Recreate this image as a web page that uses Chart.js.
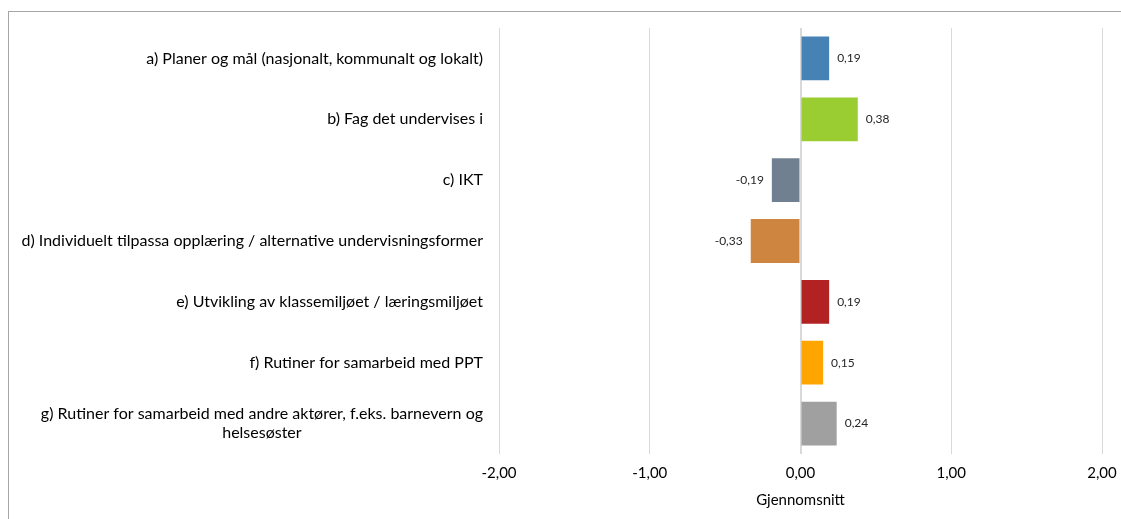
<!DOCTYPE html>
<html>
<head>
<meta charset="utf-8">
<script src="https://cdn.jsdelivr.net/npm/chart.js@4.4.1/dist/chart.umd.min.js"></script>
<style>
  html, body { margin: 0; padding: 0; background: #fff; overflow: hidden; }
  #wrap { position: relative; width: 1121px; height: 519px; }
  #frame { position: absolute; left: 8px; top: 11px; width: 1200px; height: 600px; border: 1px solid #a6a6a6; }
  canvas { position: absolute; left: 0; top: 0; }
</style>
</head>
<body>
<div id="wrap">
  <div id="frame"></div>
  <canvas id="chart" width="1121" height="519"></canvas>
</div>
<script>
// categories + values
const labels = [
  'a) Planer og mål (nasjonalt, kommunalt og lokalt)',
  'b) Fag det undervises i',
  'c) IKT',
  'd) Individuelt tilpassa opplæring / alternative undervisningsformer',
  'e) Utvikling av klassemiljøet / læringsmiljøet',
  'f) Rutiner for samarbeid med PPT',
  ['g) Rutiner for samarbeid med andre aktører, f.eks. barnevern og', 'helsesøster']
]
const values = [0.19, 0.38, -0.19, -0.33, 0.19, 0.15, 0.24]
const colors = ['#4682b4', '#9acd32', '#708090', '#cd853f', '#b22222', '#ffa500', '#a0a0a0']
const xTicks = [-2, -1, 0, 1, 2]
const axisTitle = 'Gjennomsnitt'

const FONT = 'Lato, "Open Sans", sans-serif'
const fmt = (v, d) => v.toFixed(d).replace('.', ',')

// draw y labels ourselves: right aligned block, multi-line centred inside it
const yLabels = {
  id: 'yLabels',
  afterDraw (chart) {
    const { ctx } = chart
    const y = chart.scales.y
    ctx.save()
    ctx.font = '16px ' + FONT
    ctx.fillStyle = '#000'
    ctx.textBaseline = 'middle'
    ctx.textAlign = 'center'
    labels.forEach((lab, i) => {
      const lines = Array.isArray(lab) ? lab : [lab]
      const cy = y.getPixelForValue(i)
      const right = 483
      const maxW = Math.max(...lines.map(l => ctx.measureText(l).width))
      const lh = 19
      lines.forEach((l, j) => {
        const ly = cy + (j - (lines.length - 1) / 2) * lh
        ctx.fillText(l, right - maxW / 2, ly)
      })
    })
    ctx.restore()
  }
}

// value labels next to the bar ends
const valueLabels = {
  id: 'valueLabels',
  afterDatasetsDraw (chart) {
    const { ctx } = chart
    const meta = chart.getDatasetMeta(0)
    ctx.save()
    ctx.font = '12px ' + FONT
    ctx.fillStyle = '#262626'
    ctx.textBaseline = 'middle'
    meta.data.forEach((bar, i) => {
      const v = values[i]
      ctx.textAlign = v >= 0 ? 'left' : 'right'
      ctx.fillText(fmt(v, 2), v >= 0 ? bar.x + 8 : bar.x - 8, bar.y)
    })
    ctx.restore()
  }
}

const chart = new Chart(document.getElementById('chart'), {
  type: 'bar',
  data: {
    labels: labels,
    datasets: [{
      data: values,
      backgroundColor: colors,
      borderWidth: 0,
      categoryPercentage: 0.8,
      barPercentage: 0.9
    }]
  },
  options: {
    indexAxis: 'y',
    responsive: false,
    animation: false,
    layout: { padding: { top: 28, right: 19, left: 0, bottom: 11 } },
    plugins: {
      legend: { display: false },
      tooltip: { enabled: false }
    },
    scales: {
      x: {
        min: -2,
        max: 2,
        afterBuildTicks: (scale) => { scale.ticks = xTicks.map(v => ({ value: v })) },
        afterFit: (scale) => { scale.paddingLeft = 0; scale.paddingRight = 0 },
        border: { display: false },
        grid: {
          color: '#d9d9d9',
          lineWidth: (c) => (c.tick && c.tick.value === 0 ? 2 : 1),
          drawTicks: false
        },
        ticks: {
          padding: 12,
          color: '#000',
          font: { family: FONT, size: 15, lineHeight: 1 },
          callback: (v) => fmt(v, 2)
        },
        title: {
          display: true,
          text: axisTitle,
          color: '#000',
          font: { family: FONT, size: 15, lineHeight: 1 },
          padding: { top: 0, bottom: 0 }
        }
      },
      y: {
        border: { display: false },
        grid: { display: false },
        ticks: { display: false },
        afterFit: (scale) => { scale.width = 499 }
      }
    }
  },
  plugins: [yLabels, valueLabels]
})
</script>
</body>
</html>
